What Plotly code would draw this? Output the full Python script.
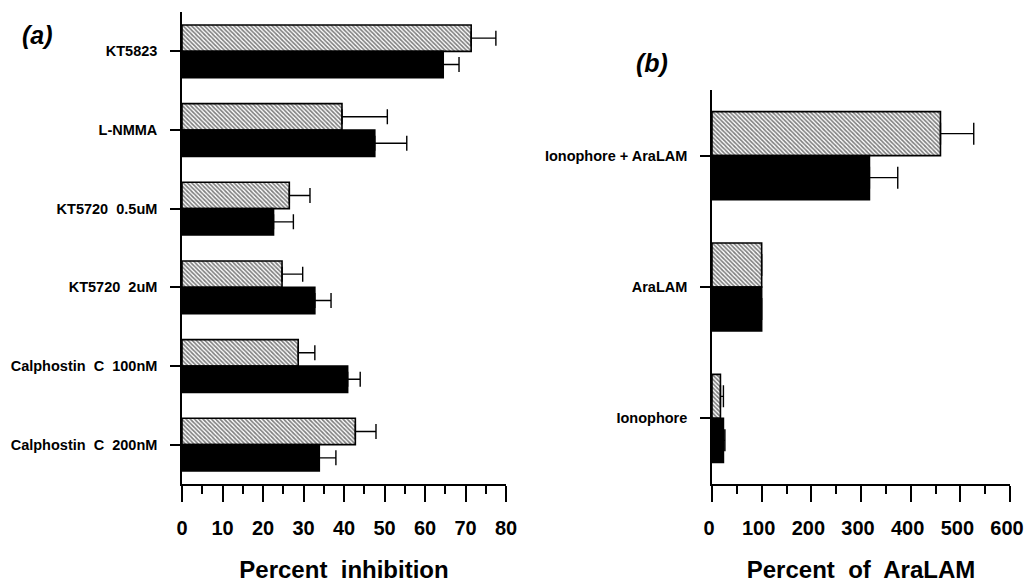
import plotly.graph_objects as go

# ---- data ----
categories_a = ["KT5823", "L-NMMA", "KT5720  0.5uM", "KT5720  2uM",
                "Calphostin  C  100nM", "Calphostin  C  200nM"]
hatched_a = [71.4, 39.5, 26.5, 24.7, 28.7, 42.8]
hatched_err_a = [6.1, 11.2, 5.1, 5.1, 4.1, 5.1]
black_a = [64.5, 47.6, 22.6, 32.8, 40.9, 33.9]
black_err_a = [3.9, 7.9, 4.9, 4.0, 3.1, 4.1]

categories_b = ["Ionophore + AraLAM", "AraLAM", "Ionophore"]
hatched_b = [460, 100, 17]
hatched_err_b = [67, 0, 6]
black_b = [317, 100, 23]
black_err_b = [57, 0, 3]

FONT = "Liberation Sans"
W, H = 1026, 583


def fx(px):
    return px / W


def fy(py):
    return 1 - py / H


fig = go.Figure()

hatch_marker = dict(color="white",
                    pattern=dict(shape="\\", size=3, solidity=0.55,
                                 fgcolor="black", bgcolor="white"),
                    line=dict(color="black", width=1.6))
black_marker = dict(color="black", line=dict(color="black", width=1.6))


def err(vals, w):
    return dict(type="data", array=vals, arrayminus=[0] * len(vals),
                symmetric=False, color="black", thickness=1.4, width=w)


fig.add_trace(go.Bar(y=categories_a, x=hatched_a, orientation="h",
                     marker=hatch_marker, error_x=err(hatched_err_a, 7.5),
                     xaxis="x", yaxis="y", showlegend=False))
fig.add_trace(go.Bar(y=categories_a, x=black_a, orientation="h",
                     marker=black_marker, error_x=err(black_err_a, 7.5),
                     xaxis="x", yaxis="y", showlegend=False))
fig.add_trace(go.Bar(y=categories_b, x=hatched_b, orientation="h",
                     marker=hatch_marker, error_x=err(hatched_err_b, 11),
                     xaxis="x2", yaxis="y2", showlegend=False))
fig.add_trace(go.Bar(y=categories_b, x=black_b, orientation="h",
                     marker=black_marker, error_x=err(black_err_b, 11),
                     xaxis="x2", yaxis="y2", showlegend=False))

tickfont = dict(family=FONT, size=20, color="black", weight="bold")
ylabfont = dict(family=FONT, size=14.5, color="black", weight="bold")
titlefont = dict(family=FONT, size=24, color="black", weight="bold")

common_x = dict(showline=True, linecolor="black", linewidth=1.5,
                ticks="outside", ticklen=16, tickwidth=1.5, tickcolor="black",
                showgrid=False, zeroline=False, tickfont=tickfont,
                ticklabelstandoff=9, ticklabeloverflow="allow",
                automargin=False, fixedrange=True)
common_y = dict(type="category", showline=True, linecolor="black",
                linewidth=1.5, ticks="outside", ticklen=10, tickwidth=1.5,
                tickcolor="black", showgrid=False, zeroline=False,
                tickfont=ylabfont, automargin=False, ticklabelstandoff=10,
                fixedrange=True)

fig.update_layout(
    width=W, height=H,
    margin=dict(l=0, r=0, t=0, b=0),
    paper_bgcolor="white", plot_bgcolor="white",
    barmode="group", bargap=0.33, bargroupgap=0,
    xaxis=dict(domain=[fx(182), fx(506)], range=[0, 80], dtick=10,
               anchor="y",
               minor=dict(dtick=5, ticks="outside", ticklen=8, tickwidth=1.5,
                          tickcolor="black"),
               title=dict(text="Percent  inhibition", font=titlefont,
                          standoff=40),
               **common_x),
    yaxis=dict(domain=[fy(484), fy(12)], anchor="x",
               categoryorder="array", categoryarray=categories_a,
               range=[5.5, -0.5], **common_y),
    xaxis2=dict(domain=[fx(712), fx(1010)], range=[0, 600], dtick=100,
                anchor="y2", ticklabelshift=-3,
                minor=dict(dtick=50, ticks="outside", ticklen=8, tickwidth=1.5,
                           tickcolor="black"),
                title=dict(text="Percent  of  AraLAM", font=titlefont,
                           standoff=40),
                **common_x),
    yaxis2=dict(domain=[fy(484), fy(90)], anchor="x2",
                categoryorder="array", categoryarray=categories_b,
                range=[2.5, -0.5], **common_y),
    annotations=[
        dict(text="<i>(a)</i>", x=fx(37), y=fy(35), xref="paper", yref="paper",
             xanchor="center", yanchor="middle", showarrow=False,
             font=dict(family=FONT, size=25, color="black", weight="bold")),
        dict(text="<i>(b)</i>", x=fx(652), y=fy(63), xref="paper", yref="paper",
             xanchor="center", yanchor="middle", showarrow=False,
             font=dict(family=FONT, size=25, color="black", weight="bold")),
    ],
)

fig.write_html("out.html",
               config={"displayModeBar": False},
               post_script="document.body.style.margin='0';"
                           "document.body.style.overflow='hidden';")
